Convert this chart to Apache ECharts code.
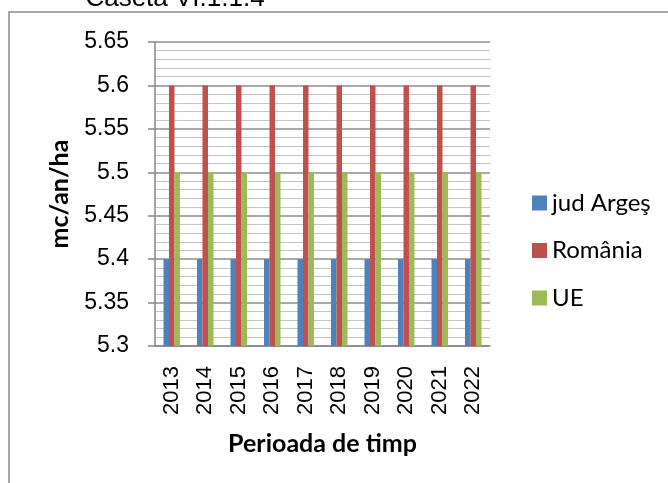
<!DOCTYPE html>
<html>
<head>
<meta charset="utf-8">
<script src="https://cdn.jsdelivr.net/npm/echarts@6/dist/echarts.min.js"></script>
<style>
html,body{margin:0;padding:0;background:#fff;}
#chart{width:668px;height:483px;}
</style>
</head>
<body>
<div id="chart"></div>
<script>
const titleText = 'Caseta VI.1.1.4';
const categories = ['2013','2014','2015','2016','2017','2018','2019','2020','2021','2022'];
const seriesNames = ['jud Argeş','România','UE'];
const judArges = [5.4,5.4,5.4,5.4,5.4,5.4,5.4,5.4,5.4,5.4];
const romania = [5.6,5.6,5.6,5.6,5.6,5.6,5.6,5.6,5.6,5.6];
const ue = [5.5,5.5,5.5,5.5,5.5,5.5,5.5,5.5,5.5,5.5];
const yMin = 5.3, yMax = 5.65, yStep = 0.05;
const xAxisName = 'Perioada de timp';
const yAxisName = 'mc/an/ha';
const colors = ['#4F81BD','#C0504D','#9BBB59'];

const chart = echarts.init(document.getElementById('chart'), null, {renderer:'canvas'});
const numFont = 'Liberation Sans, Arial, sans-serif';
const txtFont = 'Lato, Liberation Sans, sans-serif';
chart.setOption({
  animation:false,
  color: colors,
  title:{
    text: titleText, left: 170, top: -19, textAlign:'center',
    textStyle:{fontFamily:numFont,fontSize:26,fontWeight:'normal',color:'#000'}
  },
  graphic:[{
    type:'rect', shape:{x:9,y:12,width:800,height:600},
    style:{fill:'none',stroke:'#8a8a8a',lineWidth:1.5}, z:-1
  }],
  grid:{left:155, top:42, right:178, bottom:137},
  legend:{
    orient:'vertical', left:532, top:191, padding:0,
    itemWidth:15, itemHeight:15, itemGap:23.5, icon:'rect',
    textStyle:{fontFamily:txtFont,fontSize:24,color:'#000',lineHeight:24},
    data: seriesNames
  },
  xAxis:{
    type:'category', data:categories,
    axisLine:{lineStyle:{color:'#868686',width:1.5}},
    axisTick:{show:false},
    axisLabel:{rotate:90, margin:20, fontFamily:numFont, fontSize:22, color:'#000'},
    name:xAxisName, nameLocation:'middle', nameGap:85,
    nameTextStyle:{fontFamily:txtFont,fontSize:25,fontWeight:'bold',color:'#000'}
  },
  yAxis:{
    type:'value', min:yMin, max:yMax, interval:yStep,
    axisLine:{show:true,lineStyle:{color:'#868686',width:1.5}},
    axisTick:{show:true,inside:false,length:7,lineStyle:{color:'#868686',width:1.5}},
    axisLabel:{margin:26, fontFamily:numFont, fontSize:23, color:'#000',
      formatter:v=>String(+v.toFixed(2))},
    splitLine:{show:true,lineStyle:{color:'#8c8c8c',width:1.5}},
    minorTick:{show:false,splitNumber:5},
    minorSplitLine:{show:true,lineStyle:{color:'#c4c4c4',width:1.2}},
    name:yAxisName, nameLocation:'middle', nameGap:83, nameRotate:90,
    nameTextStyle:{fontFamily:txtFont,fontSize:25,fontWeight:'bold',color:'#000'}
  },
  series:[
    {name:seriesNames[0], type:'bar', data:judArges, barWidth:5.5, barGap:'0%'},
    {name:seriesNames[1], type:'bar', data:romania, barWidth:5.5, barGap:'0%'},
    {name:seriesNames[2], type:'bar', data:ue, barWidth:5.5, barGap:'0%'}
  ]
});
</script>
</body>
</html>
